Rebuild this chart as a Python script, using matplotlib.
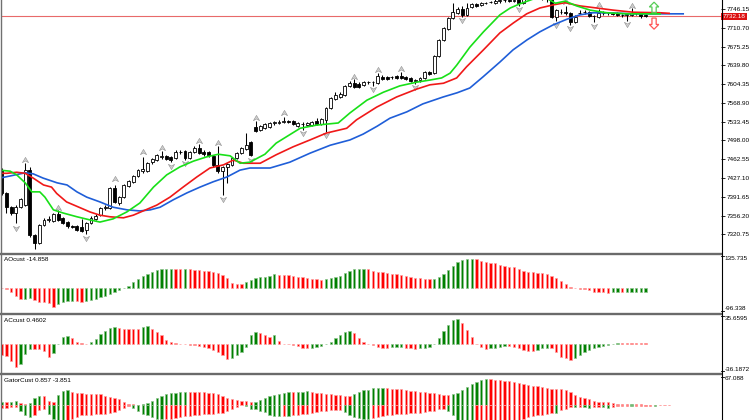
import matplotlib
matplotlib.use('Agg')
import matplotlib.pyplot as plt
from matplotlib.patches import FancyArrow
from matplotlib.lines import Line2D
from matplotlib.path import Path
import numpy as np

plt.rcParams['font.family'] = ['Liberation Sans', 'DejaVu Sans']

# ---------------- data ----------------
opens = [7442, 7399, 7372, 7361, 7372, 7376, 7442, 7319, 7304, 7338, 7348, 7346, 7359, 7352, 7344, 7336, 7336, 7334, 7329, 7342,
         7350, 7357, 7370, 7370, 7408, 7380, 7391, 7412, 7419, 7431, 7440, 7440, 7457, 7461, 7467, 7469, 7467, 7465, 7476, 7478,
         7465, 7476, 7484, 7476, 7476, 7468, 7452, 7440, 7448, 7452, 7465, 7474, 7482, 7495, 7523, 7518, 7521, 7523, 7531, 7531,
         7533, 7535, 7535, 7525, 7529, 7527, 7527, 7535, 7529, 7536, 7559, 7576, 7580, 7584, 7601, 7606, 7605, 7603, 7608, 7608,
         7606, 7618, 7617, 7617, 7620, 7620, 7618, 7616, 7610, 7612, 7616, 7627, 7625, 7657, 7688, 7708, 7729, 7738, 7746, 7735,
         7750, 7755, 7754, 7757, 7759, 7758, 7761, 7763, 7764, 7762, 7768, 7757, 7768, 7775, 7778, 7772, 7766, 7765, 7731, 7740,
         7740, 7738, 7721, 7738, 7740, 7740, 7733, 7731, 7738, 7738, 7738, 7738, 7734, 7735, 7734, 7738, 7736, 7734]
highs = [7446, 7401, 7375, 7376, 7390, 7455, 7448, 7322, 7340, 7352, 7355, 7362, 7366, 7354, 7346, 7338, 7338, 7350, 7345, 7355,
         7360, 7372, 7376, 7410, 7414, 7393, 7416, 7423, 7433, 7444, 7467, 7457, 7465, 7472, 7478, 7471, 7469, 7480, 7480, 7480,
         7478, 7487, 7491, 7480, 7478, 7470, 7488, 7450, 7455, 7467, 7476, 7486, 7512, 7497, 7535, 7527, 7531, 7533, 7535, 7537,
         7543, 7537, 7537, 7533, 7533, 7533, 7535, 7540, 7540, 7561, 7580, 7589, 7590, 7603, 7610, 7614, 7608, 7610, 7610, 7611,
         7625, 7622, 7620, 7620, 7622, 7627, 7620, 7618, 7614, 7618, 7629, 7629, 7659, 7690, 7712, 7731, 7757, 7750, 7752, 7757,
         7758, 7757, 7759, 7760, 7762, 7765, 7766, 7768, 7767, 7767, 7772, 7775, 7782, 7785, 7783, 7778, 7775, 7770, 7746, 7746,
         7752, 7740, 7735, 7744, 7744, 7742, 7735, 7746, 7742, 7741, 7740, 7740, 7737, 7738, 7748, 7741, 7738, 7736]
lows = [7396, 7361, 7358, 7342, 7370, 7374, 7315, 7293, 7302, 7336, 7344, 7344, 7346, 7340, 7333, 7332, 7327, 7325, 7321, 7340,
        7348, 7355, 7366, 7368, 7380, 7376, 7389, 7410, 7417, 7429, 7436, 7438, 7453, 7459, 7463, 7461, 7457, 7463, 7472, 7461,
        7463, 7474, 7472, 7469, 7467, 7448, 7436, 7395, 7418, 7450, 7463, 7472, 7480, 7468, 7514, 7516, 7519, 7521, 7527, 7529,
        7531, 7531, 7527, 7523, 7517, 7525, 7525, 7527, 7527, 7514, 7557, 7574, 7578, 7582, 7599, 7597, 7597, 7601, 7605, 7600,
        7604, 7612, 7612, 7614, 7614, 7614, 7612, 7608, 7604, 7608, 7614, 7622, 7623, 7655, 7686, 7706, 7727, 7736, 7731, 7733,
        7748, 7750, 7752, 7755, 7757, 7756, 7758, 7760, 7759, 7759, 7752, 7755, 7765, 7770, 7768, 7764, 7760, 7729, 7723, 7736,
        7734, 7716, 7719, 7736, 7736, 7731, 7722, 7729, 7735, 7735, 7735, 7732, 7731, 7724, 7732, 7735, 7729, 7731]
closes = [7399, 7372, 7361, 7372, 7387, 7442, 7319, 7304, 7338, 7348, 7350, 7359, 7348, 7342, 7336, 7334, 7329, 7327, 7342, 7352,
          7355, 7370, 7372, 7408, 7382, 7391, 7414, 7421, 7431, 7442, 7444, 7455, 7463, 7470, 7469, 7463, 7461, 7476, 7477, 7465,
          7476, 7484, 7474, 7472, 7470, 7452, 7440, 7448, 7453, 7465, 7474, 7484, 7489, 7470, 7516, 7525, 7529, 7531, 7532, 7533,
          7535, 7533, 7529, 7531, 7530, 7531, 7533, 7529, 7538, 7559, 7578, 7584, 7586, 7601, 7606, 7599, 7599, 7608, 7609, 7609,
          7620, 7614, 7614, 7618, 7616, 7616, 7614, 7610, 7612, 7616, 7627, 7624, 7657, 7688, 7710, 7729, 7740, 7746, 7735, 7748,
          7755, 7752, 7757, 7758, 7760, 7761, 7763, 7764, 7761, 7763, 7757, 7768, 7775, 7778, 7772, 7768, 7765, 7731, 7744, 7741,
          7738, 7721, 7731, 7739, 7741, 7733, 7732, 7738, 7739, 7739, 7737, 7734, 7735, 7736, 7738, 7739, 7733, 7732.18]

last_price = 7732.18
price_ticks = [7320.75, 7356.20, 7391.65, 7427.10, 7462.55, 7498.00, 7533.45,
               7568.90, 7604.35, 7639.80, 7675.25, 7710.70, 7746.15]

frac_up_bar = [5, 12, 24, 30, 34, 42, 46, 54, 60, 75, 80, 85, 120, 127, 134]
frac_up_px = [7461, 7370, 7425, 7476, 7484, 7497, 7493, 7540, 7550, 7618, 7631, 7633, 7759, 7754, 7752]
frac_dn_bar = [3, 18, 36, 39, 47, 53, 64, 69, 79, 88, 98, 110, 118, 121, 126, 133]
frac_dn_px = [7333, 7314, 7450, 7455, 7387, 7462, 7512, 7508, 7595, 7599, 7725, 7746, 7716, 7710, 7714, 7718]

jaw_x = [-0.4, 1.8, 5.0, 6.7, 8.8, 11.8, 13.9, 16.0, 18.1, 20.9, 23.7, 26.7, 29.4, 31.6, 33.7, 36.5, 39.4, 42.2,
         45.0, 47.9, 50.7, 52.8, 57.1, 61.3, 65.6, 69.9, 74.1, 76.9, 79.9, 82.6, 86.2, 89.6, 93.9, 96.9, 99.6,
         102.4, 106.0, 108.8, 111.8, 114.5, 117.3, 120.3, 123.0, 125.8, 128.8, 134.3, 140.0, 145.0]
jaw_y = [7427, 7431, 7437, 7435, 7427, 7418, 7414, 7401, 7391, 7382, 7372, 7367, 7365, 7367, 7372, 7386, 7399, 7410,
         7420, 7429, 7442, 7446, 7446, 7457, 7474, 7489, 7499, 7510, 7525, 7540, 7552, 7567, 7580, 7588, 7597,
         7618, 7646, 7669, 7688, 7703, 7716, 7727, 7735, 7739, 7739, 7737, 7737, 7737]
teeth_x = [-0.4, 1.1, 3.2, 5.0, 6.7, 8.9, 10.6, 11.7, 13.8, 16.7, 18.8, 20.9, 23.0, 25.9, 28.0, 30.1, 33.0, 35.8,
           38.6, 41.5, 44.3, 47.2, 49.3, 51.4, 52.8, 55.0, 58.4, 62.0, 65.6, 69.1, 73.4, 75.5, 79.8, 84.0, 88.3,
           91.1, 94.0, 96.8, 98.9, 102.5, 106.0, 108.9, 111.7, 114.5, 117.4, 119.9, 123.0, 126.6, 130.1, 134.4,
           140.1, 142.0]
teeth_y = [7436, 7436, 7438, 7436, 7427, 7414, 7410, 7398, 7382, 7371, 7363, 7357, 7354, 7352, 7357, 7365, 7376, 7391,
           7410, 7429, 7446, 7452, 7461, 7455, 7455, 7455, 7471, 7486, 7499, 7512, 7521, 7537, 7561, 7580, 7595,
           7603, 7606, 7616, 7637, 7669, 7701, 7720, 7737, 7748, 7754, 7758, 7752, 7748, 7744, 7740,
           7739, 7738]
lips_x = [-0.4, 1.8, 3.2, 5.0, 6.4, 8.1, 9.2, 11.0, 13.1, 16.0, 18.8, 20.9, 23.7, 26.6, 29.4, 32.3, 35.1, 37.9,
          40.8, 43.6, 46.1, 48.6, 50.7, 52.8, 56.0, 58.4, 63.5, 67.0, 71.6, 74.1, 77.7, 81.2, 84.7, 88.3, 91.1,
          93.6, 95.4, 96.8, 99.6, 102.5, 106.0, 108.2, 110.3, 113.1, 116.0, 117.8, 119.9, 122.3, 125.2, 128.7,
          133.0, 140.1]
lips_y = [7442, 7440, 7433, 7418, 7401, 7401, 7391, 7367, 7361, 7354, 7348, 7344, 7350, 7363, 7380, 7410, 7433, 7448,
          7459, 7467, 7472, 7469, 7455, 7457, 7472, 7493, 7521, 7527, 7531, 7550, 7574, 7589, 7601, 7608, 7612,
          7616, 7625, 7640, 7674, 7703, 7735, 7748, 7756, 7765, 7766, 7757, 7761, 7752, 7744, 7739,
          7737, 7737]

signal_bar = 138.8
signal_up = (7739, 7759)
signal_dn = (7729, 7708)

ao = [2.8, -2.8, -13.4, -32.6, -43.5, -41.9, -40.7, -47.6, -54.1, -57, -61, -74.5, -65.1, -57, -51.7, -50.1, -52.9, -54.1,
      -50.9, -46.8, -41.9, -36.6, -29.7, -22.4, -14.2, -6.1, 2, 10.2, 24.4, 36.6, 48.8, 57, 65.1, 73.3, 77.3, 78.6, 79,
      78.6, 78.1, 78.6, 77.3, 76.1, 74.5, 72, 69.2, 66.3, 61, 52.9, 40.7, 20.4, 17.5, 16.3, 27.3, 33.8, 40.7, 44.8, 47.6,
      51.7, 57, 54.9, 54.1, 53.7, 51.7, 47.6, 44.8, 40.7, 37.9, 36.6, 35.8, 36.6, 40.7, 44.8, 51.7, 61, 72, 77.3, 77.7,
      78.1, 77.3, 72, 68, 65.1, 61, 58.2, 57, 54.1, 51.7, 46, 43.5, 40.7, 37.9, 36.6, 37.4, 47.6, 57, 74.5, 90.8, 105.8,
      115.2, 118, 118.4, 118, 112.7, 108.7, 104.6, 101.8, 94.8, 92.4, 88.3, 85.5, 78.6, 70.4, 68, 65.1, 61, 60.6, 57,
      51.7, 40.7, 29.7, 16.3, 6.9, 1.2, -0.8, -2.8, -6.9, -13.4, -13.8, -14.2, -17, -16.5, -16, -16.3, -15.8, -15.4,
      -15.2, -15.0, -14.858]

ac = [-13.6, -14.9, -21.1, -28.5, -24.8, -12.4, -6.2, -6.4, -6.7, -8.7, -16.1, -11.8, 0.1, 7.8, 9.9, 7.4, 2.5, 0.4,
      0.2, 1.9, 5.6, 11.8, 16.1, 19.8, 21.1, 19, 18.2, 18.1, 18, 17.8, 21.1, 22.3, 18.2, 14, 10.8, 4.6, 2.5, 0.4, 0.25,
      0.1, -0.9, -1.6, -2.5, -3.7, -5.8, -7.8, -9.9, -14.2, -19.2, -18, -14.2, -9.9, -3.7, 10.8, 14, 12.8, 10.8, 8.7,
      10.8, 3.3, 0.25, 0.1, -1.6, -2.5, -5, -5.8, -5, -3.7, -2.5, 0.2, 2.5, 7.4, 10.8, 14, 15.7, 12.8, 6.6, 2.5, 0.2,
      -1.6, -3.7, -5, -5.1, -3.7, -3.6, -3.5, -5, -5.8, -6.6, -5.8, -5.6, -3.7, 0.25, 7.4, 15.7, 23.2, 29.4, 30.6,
      25.2, 17, 8.7, 0.2, -3.7, -6.6, -5.8, -5, -3.7, -2.5, -2.6, -3.7, -5.8, -7.8, -9, -9.2, -7.8, -5.2, -5, -5.8,
      -9.9, -16.1, -18.2, -20.2, -18.2, -14, -9.9, -7.8, -5.8, -3.7, -2.5, -1.6, -0.5, 1.0, 0.9, 0.7, 0.6, 0.55, 0.5,
      0.4602]

gator_up = [7.7, 7.7, 7.8, 9.2, 5.4, 2.3, 5.4, 15.4, 21.6, 20.8, 9.2, 7.7, 23.1, 33.1, 34.7, 29.3, 27, 26.9, 26.8,
            26.7, 26.6, 24.6, 21.6, 19.3, 16.9, 13.9, 7.7, 3.9, 2.3, 1.5, 2.3, 5.4, 9.2, 15.4, 20.8, 24.6, 27, 28.5,
            30, 30.8, 30.7, 30.6, 30.5, 29.3, 28.5, 27, 24.6, 21.6, 16.9, 13.9, 11.6, 10, 9.2, 7.7, 8.5, 11.6, 16.9,
            21.6, 22.3, 24.6, 27, 30.8, 30, 30.8, 31.2, 32.3, 29.3, 28.5, 27, 25.4, 24.6, 23.1, 22.7, 21.6, 21.2,
            24.6, 29.3, 33.9, 35.4, 38.5, 40, 40.4, 38.5, 38.1, 37, 36.2, 34.7, 33.1, 32.3, 30.8, 30, 28.5, 27, 24.6,
            23.1, 22.7, 24.6, 27, 34.7, 42.4, 47.7, 53.9, 57.8, 60, 59.7, 58.5, 57.8, 56.2, 54.7, 53.1, 50.8, 49.3,
            47, 44.7, 43.1, 40.8, 39.3, 37.7, 37, 36.6, 35.4, 30.8, 23.1, 18.5, 15.4, 13.9, 10.8, 8.5, 7.7, 6.5, 4.6,
            3.1, 2.7, 2.3, 2.5, 2.2, 1.9, 0.857, 0.8, 0.75, 0.7, 0.6, 0.5]
gator_dn = [-6.2, -6.2, -4.6, -3.9, -13.9, -23.1, -27, -23.1, -11.6, -9.2, -19.3, -30.8, -38.5, -40, -38.5, -30.8,
            -27, -23.1, -21.6, -21.5, -20.8, -20, -19.3, -17.7, -15.4, -11.6, -6.2, -2.3, -6.2, -13.9, -19.3, -23.1,
            -27, -30.8, -32.3, -32.2, -30.8, -29.3, -27, -25.4, -24.6, -23.1, -21.6, -20.8, -20, -19.9, -18.5,
            -16.9, -13.9, -9.2, -3.9, -0.3, -2.3, -7.7, -9.2, -13.9, -15.4, -23.1, -24.6, -25, -24.6, -25, -23.1,
            -21.6, -20, -19.3, -16.9, -15.4, -13.9, -12.3, -11.6, -11.2, -10.8, -15.4, -23.1, -27, -29.3, -30.8,
            -31.2, -29.3, -27, -24.6, -23.1, -21.6, -20.8, -20, -19.3, -18.9, -18.5, -16.9, -15.4, -13.9, -12.3,
            -9.2, -7.7, -13.9, -23.1, -34.7, -42.4, -47.7, -50, -48.5, -46.2, -44.7, -43.1, -41.6, -40, -38.5,
            -37.7, -37, -36.2, -32.3, -27.7, -24.6, -23.1, -21.6, -19.3, -16.9, -17.7, -11.6, -7.7, -3.9, -4.6,
            -3.1, -4.6, -6.2, -3.9, -3.1, -3.9, -6.2, -3.1, -2.3, -1.9, -1.5, -1.9, -1.7, -1.2, -1.0, -0.8, -1.0,
            -0.6, -0.4, -0.2]

ao_label = 'AOcust -14.858'
ac_label = 'ACcust 0.4602'
gator_label = 'GatorCust 0.857 -3.851'
ao_range = (-96.338, 135.735)
ac_range = (-36.1872, 35.6595)
gator_top = 67.088

# ---------------- layout ----------------
W, H = 752, 420
fig = plt.figure(figsize=(W / 100, H / 100), dpi=100)
fig.patch.set_facecolor('white')


def rect(l, t, r, b):
    return [l / W, 1 - b / H, (r - l) / W, (b - t) / H]


XL = (2 - 1.7) / 4.7
XR = (721 - 1.7) / 4.7
GREEN, RED = '#008000', '#ff0000'
GREEN_E, RED_E = '#8cc48c', '#ffa0a0'
FS = 4.6


def clean(a):
    a.set_xlim(XL, XR)
    for s in a.spines.values():
        s.set_visible(False)
    a.set_xticks([])
    a.set_facecolor('white')


# main price panel
ax = fig.add_axes(rect(2, 0, 721, 253))
clean(ax)
ax.set_ylim(7285.6, 7763.1)
idx = np.arange(len(opens))
o = np.array(opens); h = np.array(highs); l = np.array(lows); c = np.array(closes)
ax.axhline(last_price, color='#e86a6a', lw=0.8, zorder=1)
ax.vlines(idx, l, h, color='black', lw=0.75, zorder=2)
bull = c >= o
body_h = np.maximum(np.abs(c - o), 0.4)
ax.bar(idx, body_h, bottom=np.minimum(o, c), width=0.6,
       color=np.where(bull, 'white', 'black'), edgecolor='black', lw=0.6, zorder=3)

# fractal arrow heads (chevron shape)
arrow_up = Path([(0, 1), (1, -0.7), (0, -0.15), (-1, -0.7), (0, 1)],
                [Path.MOVETO, Path.LINETO, Path.LINETO, Path.LINETO, Path.CLOSEPOLY])
arrow_dn = Path([(0, -1), (1, 0.7), (0, 0.15), (-1, 0.7), (0, -1)],
                [Path.MOVETO, Path.LINETO, Path.LINETO, Path.LINETO, Path.CLOSEPOLY])
ax.scatter(frac_up_bar, frac_up_px, marker=arrow_up, s=20, facecolor='#d0d0d0', edgecolor='#909090', lw=0.4, zorder=4)
ax.scatter(frac_dn_bar, frac_dn_px, marker=arrow_dn, s=20, facecolor='#d0d0d0', edgecolor='#909090', lw=0.4, zorder=4)

ax.plot(jaw_x, jaw_y, color='#1f5ed8', lw=1.2, zorder=5)
ax.plot(teeth_x, teeth_y, color='#f01818', lw=1.2, zorder=5)
ax.plot(lips_x, lips_y, color='#18e018', lw=1.2, zorder=5)

ax.add_patch(FancyArrow(signal_bar, signal_up[0], 0, signal_up[1] - signal_up[0], width=0.9, head_width=2.0,
                        head_length=9, length_includes_head=True, fill=False, ec='#55cc55', lw=0.9, zorder=6))
ax.add_patch(FancyArrow(signal_bar, signal_dn[0], 0, signal_dn[1] - signal_dn[0], width=0.9, head_width=2.0,
                        head_length=9, length_includes_head=True, fill=False, ec='#ff5555', lw=0.9, zorder=6))

ax.yaxis.tick_right()
ax.set_yticks(price_ticks)
ax.set_yticklabels(['%.2f' % v for v in price_ticks])
ax.tick_params(axis='y', direction='out', length=3, width=0.6, labelsize=FS, pad=1.2, colors='black')
ax.text(XR + 0.3, last_price, '%.2f' % last_price, ha='left', va='center', fontsize=FS, color='white',
        bbox=dict(boxstyle='square,pad=0.2', fc='#dd1111', ec='none'), clip_on=False, zorder=10)


def colors_by_change(vals, first, mag=False):
    v = np.abs(vals) if mag else np.asarray(vals)
    cols = [first]
    for i in range(1, len(v)):
        cols.append('g' if v[i] > v[i - 1] else 'r')
    return cols


def hist(a, x, vals, cols):
    fc = [GREEN if k == 'g' else RED for k in cols]
    ec = [GREEN_E if k == 'g' else RED_E for k in cols]
    a.bar(x, vals, width=0.5, color=fc, edgecolor=ec, lw=0.5)


# AO panel
ax1 = fig.add_axes(rect(2, 255, 721, 312))
clean(ax1)
ax1.set_ylim(*ao_range)
ax1.set_yticks([])
hist(ax1, np.arange(len(ao)), ao, colors_by_change(ao, 'r'))

# AC panel
ax2 = fig.add_axes(rect(2, 315, 721, 373))
clean(ax2)
ax2.set_ylim(*ac_range)
ax2.set_yticks([])
hist(ax2, np.arange(len(ac)), ac, colors_by_change(ac, 'r'))

# Gator panel
ax3 = fig.add_axes(rect(2, 376, 721, 420))
clean(ax3)
ax3.set_ylim(-34, gator_top)
ax3.set_yticks([])
gx = np.arange(len(gator_up))
hist(ax3, gx, gator_up, colors_by_change(gator_up, 'g'))
hist(ax3, gx, gator_dn, colors_by_change(gator_dn, 'r', mag=True))


# labels
def ftext(xp, yp, s, **kw):
    fig.text(xp / W, 1 - yp / H, s, fontsize=FS, color='black', va='center', **kw)


ftext(4, 259.5, ao_label)
ftext(4, 320, ac_label)
ftext(4, 380, gator_label)
ftext(724.5, 258, '%.3f' % ao_range[1])
ftext(724.5, 309, '%.3f' % ao_range[0])
ftext(724.5, 318, '%.4f' % ac_range[1])
ftext(724.5, 369.5, '%.4f' % ac_range[0])
ftext(724.5, 379, '%.3f' % gator_top)


def fline(x0, y0, x1, y1, **kw):
    fig.add_artist(Line2D([x0 / W, x1 / W], [1 - y0 / H, 1 - y1 / H], **kw))


for yp in (253.6, 314.0, 374.2):
    fline(0, yp, 721, yp, color='#6a6a6a', lw=1.7)
for yp in (256, 311, 316, 371, 377):
    fline(721, yp, 724, yp, color='black', lw=0.6)
fline(1, 0, 1, 420, color='#707070', lw=1.0)
fline(721.5, 0, 721.5, 420, color='black', lw=0.8)

fig.savefig('out.png', dpi=100, facecolor='white')
